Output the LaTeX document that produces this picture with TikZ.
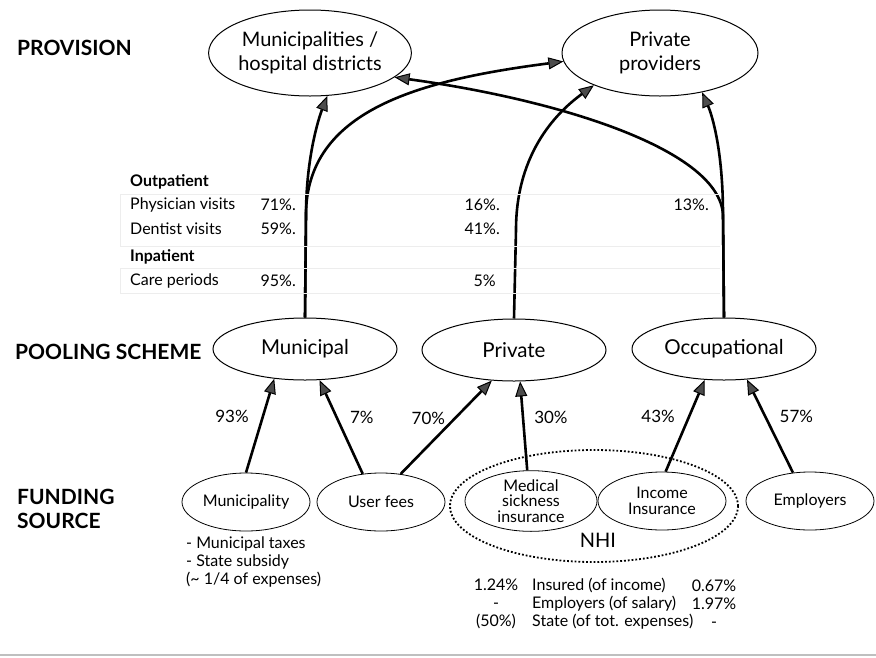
\documentclass[tikz,border=0pt]{standalone}
\usepackage{fontspec}
\setmainfont{Lato}
\usetikzlibrary{shapes.geometric,arrows.meta,positioning}

\tikzset{
  prov/.style={ellipse,draw,line width=1pt,minimum width=196pt,minimum height=86pt,inner sep=0pt,align=center,font=\fontsize{20}{24}\selectfont},
  pool/.style={ellipse,draw,line width=1pt,minimum width=184pt,minimum height=62pt,inner sep=0pt,font=\fontsize{20.5}{22}\selectfont},
  fund/.style={ellipse,draw,line width=0.8pt,minimum width=128pt,minimum height=58pt,inner sep=0pt,align=center,font=\fontsize{16}{15.5}\selectfont},
  flow/.style={line width=2.6pt,-{Triangle[length=15pt,width=12pt,fill=black!70,line width=1pt]}},
  head/.style={anchor=west,inner sep=0pt,align=left,font=\bfseries\fontsize{21}{24}\selectfont},
  pct/.style={inner sep=0pt,font=\fontsize{17}{18}\selectfont},
  cell/.style={inner sep=0pt,font=\fontsize{16}{16}\selectfont},
  note/.style={inner sep=0pt,font=\fontsize{16}{18}\selectfont}
}

\begin{document}
\begin{tikzpicture}[x=1pt,y=-1pt]
  \useasboundingbox (0,0) rectangle (876,657);

  % level headings
  \node[head] (hprov) at (17,48) {PROVISION};
  \node[head] (hpool) at (15,352) {POOLING SCHEME};
  \node[head] (hfund) at (17,509) {FUNDING\\SOURCE};

  % provision
  \node[prov] (muni) at (310,53) {Municipalities /\\hospital districts};
  \node[prov] (pprov) at (660,53) {Private\\providers};

  % pooling schemes
  \node[pool] (mpool) at (305,349) {Municipal};
  \node[pool] (ppool) at (514,350) {Private};
  \node[pool] (opool) at (724,349) {Occupational};

  % funding sources
  \node[draw,ellipse,dotted,line width=1.8pt,minimum width=288pt,minimum height=112pt] (nhi) at (594,506) {};
  \node[fund] (mfund) at (246,502) {Municipality};
  \node[fund] (user) at (381,502) {User fees};
  \node[fund,minimum width=132pt] (med) at (531,501) {Medical\\sickness\\insurance};
  \node[fund] (inc) at (662,501) {Income\\Insurance};
  \node[fund] (empl) at (810,501) {Employers};
  \node[note,font=\fontsize{20}{20}\selectfont] (nhilbl) at (598,540) {NHI};

  % funding -> pooling
  \draw[flow] (mfund.north) -- (mpool.224) node[pct,pos=0.6,left=13pt] (p93) {93\%};
  \draw[flow] (user.123) -- (mpool.295) node[pct,pos=0.6,right=12pt] (p7) {7\%};
  \draw[flow] (user.55) -- (ppool.234) node[pct,pos=0.6,left=9pt] (p70) {70\%};
  \draw[flow] (med.97) -- (ppool.281) node[pct,pos=0.6,right=10pt] (p30) {30\%};
  \draw[flow] (inc.83) -- (opool.238) node[pct,pos=0.6,left=13pt] (p43) {43\%};
  \draw[flow] (empl.121) -- (opool.307) node[pct,pos=0.6,right=13pt] (p57) {57\%};

  % pooling -> provision
  \draw[flow] (mpool.north) -- (306,215) .. controls (306,160) and (318,120) .. (muni.292);
  \draw[flow] (mpool.north) -- (306,215) .. controls (306,110) and (420,80) .. (pprov.185);
  \draw[flow] (ppool.north) -- (516,230) .. controls (516,150) and (560,110) .. (pprov.206);
  \draw[flow] (opool.north) -- (723,215) .. controls (723,150) and (712,115) .. (pprov.317);
  \draw[flow] (opool.north) -- (723,215) .. controls (720,150) and (560,100) .. (muni.344);

  % shares of visits
  \draw[black!7,line width=0.8pt] (120,194) -- (720,194) (120,246) -- (720,246)
    (120,268) -- (720,268) (120,293) -- (720,293) (120,194) -- (120,246) (120,268) -- (120,293);
  \node[cell,anchor=west,font=\bfseries\fontsize{16}{16}\selectfont] (outp) at (130,182) {Outpatient};
  \node[cell,anchor=west] (phys) at (130,205) {Physician visits};
  \node[cell,anchor=west] (dent) at (130,229) {Dentist visits};
  \node[cell,anchor=west,font=\bfseries\fontsize{16}{16}\selectfont] (inp) at (130,257) {Inpatient};
  \node[cell,anchor=west] (care) at (130,281) {Care periods};
  \node[cell,anchor=east] (v71) at (296,205) {71\%.};
  \node[cell,anchor=east] (v59) at (296,229) {59\%.};
  \node[cell,anchor=east] (v95) at (296,281) {95\%.};
  \node[cell,anchor=east] (v16) at (500,205) {16\%.};
  \node[cell,anchor=east] (v41) at (500,229) {41\%.};
  \node[cell,anchor=east] (v5) at (496,281) {5\%};
  \node[cell,anchor=east] (v13) at (709,205) {13\%.};

  % notes
  \node[note,anchor=west,align=left] (mnote) at (186,562) {- Municipal taxes\\- State subsidy\\(\textasciitilde{} 1/4 of expenses)};
  \node[note,align=center] (rate1) at (496,604) {1.24\%\\-\\(50\%)};
  \node[note,anchor=west,align=left] (payer) at (532,604) {Insured (of income)\\Employers (of salary)\\State (of tot. expenses)};
  \node[note,align=center] (rate2) at (714,604) {0.67\%\\1.97\%\\-};

  \draw[black!25,line width=1.5pt] (0,655) -- (876,655);
\end{tikzpicture}
\end{document}
